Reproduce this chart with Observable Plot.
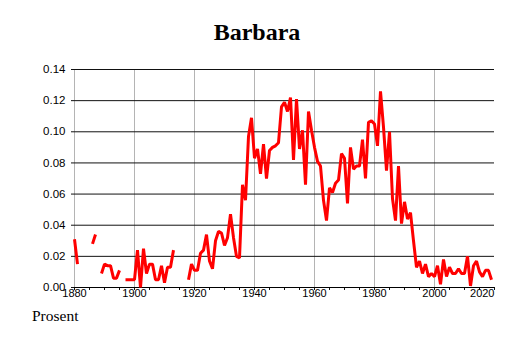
<!DOCTYPE html>
<html><head><meta charset="utf-8">
<script src="https://cdn.jsdelivr.net/npm/d3@7"></script>
<script src="https://cdn.jsdelivr.net/npm/@observablehq/plot@0.6"></script>
<style>
body{margin:0;background:#fff;}
#wrap{position:relative;width:514px;height:343px;overflow:hidden;}
#wrap svg{position:absolute;left:0;top:0;}
#title{position:absolute;left:0;width:514px;top:20px;line-height:24px;text-align:center;font-weight:bold;font-size:24px;font-family:"Liberation Serif","Times New Roman",serif;color:#000;}
#unit{position:absolute;left:32px;top:308px;line-height:16px;font-size:15.5px;font-family:"Liberation Serif","Times New Roman",serif;color:#000;}
</style></head>
<body><div id="wrap"><div id="title">Barbara</div><div id="unit">Prosent</div></div>
<script>
const title = "Barbara";
const unitLabel = "Prosent";
const firstYear = 1880;
// share (percent) per year, null = no data
const values = [
  0.031, 0.015, null, null, null, null, 0.028, 0.034, null, 0.009,   // 1880-1889
  0.015, 0.014, 0.014, 0.006, 0.006, 0.011, null, 0.005, 0.005, 0.005, // 1890-1899
  0.005, 0.024, 0.000, 0.025, 0.009, 0.015, 0.015, 0.005, 0.005, 0.014, // 1900-1909
  0.003, 0.013, 0.013, 0.024, null, null, null, null, 0.005, 0.015,    // 1910-1919
  0.011, 0.011, 0.022, 0.024, 0.034, 0.017, 0.012, 0.030, 0.036, 0.035, // 1920-1929
  0.027, 0.032, 0.047, 0.032, 0.020, 0.019, 0.066, 0.056, 0.097, 0.109, // 1930-1939
  0.083, 0.089, 0.073, 0.092, 0.070, 0.088, 0.090, 0.091, 0.093, 0.116, // 1940-1949
  0.119, 0.113, 0.122, 0.082, 0.121, 0.089, 0.101, 0.066, 0.113, 0.101, // 1950-1959
  0.090, 0.081, 0.078, 0.056, 0.043, 0.064, 0.061, 0.067, 0.069, 0.086, // 1960-1969
  0.083, 0.054, 0.090, 0.076, 0.078, 0.078, 0.095, 0.070, 0.106, 0.107, // 1970-1979
  0.105, 0.091, 0.126, 0.103, 0.075, 0.100, 0.057, 0.043, 0.078, 0.041, // 1980-1989
  0.055, 0.044, 0.048, 0.030, 0.013, 0.017, 0.009, 0.015, 0.007, 0.009, // 1990-1999
  0.007, 0.014, 0.002, 0.018, 0.007, 0.013, 0.009, 0.009, 0.012, 0.009, // 2000-2009
  0.009, 0.020, 0.001, 0.014, 0.017, 0.010, 0.007, 0.011, 0.011, 0.005  // 2010-2019
];
const years = values.map((_, i) => firstYear + i);
const xDomain = [1880, 2020];
const yDomain = [0, 0.14];
const yTicks = [0, 0.02, 0.04, 0.06, 0.08, 0.10, 0.12, 0.14];
const xLabelTicks = [1880, 1900, 1920, 1940, 1960, 1980, 2000];
const xLastLabel = [2020];
const xGridTicks = [1880, 1900, 1920, 1940, 1960, 1980, 2000];
const xMinorTicks = [1880,1885,1890,1895,1900,1905,1910,1915,1920,1925,1930,1935,1940,1945,1950,1955,1960,1965,1970,1975,1980,1985,1990,1995,2000,2005,2010,2015,2020];

const data = years.map((year, i) => ({year, value: values[i]}));

document.getElementById("title").textContent = title;
document.getElementById("unit").textContent = unitLabel;

const chart = Plot.plot({
  width: 514,
  height: 343,
  marginLeft: 74,
  marginRight: 20,
  marginTop: 69,
  marginBottom: 56,
  style: {fontFamily: '"Liberation Sans", Arial, sans-serif', background: "transparent", color: "#000"},
  x: {domain: xDomain, axis: null, label: null},
  y: {domain: yDomain, axis: null, label: null},
  marks: [
    Plot.gridX({ticks: xGridTicks, stroke: "#b4b4b4", strokeOpacity: 1}),
    Plot.gridY({ticks: yTicks, stroke: "#111", strokeOpacity: 1}),
    Plot.axisY({ticks: yTicks, tickFormat: d3.format(".2f"), tickSize: 3, tickPadding: 6, fontSize: 11.5, stroke: "#111", label: null}),
    Plot.axisX({ticks: xMinorTicks, tickSize: 3, tickFormat: () => "", stroke: "#111", label: null}),
    Plot.axisX({ticks: xLabelTicks, tickSize: 0, tickPadding: 2, fontSize: 11, tickFormat: d3.format("d"), label: null}),
    Plot.axisX({ticks: xLastLabel, tickSize: 0, tickPadding: 2, fontSize: 11, tickFormat: d3.format("d"), textAnchor: "end", label: null}),
    Plot.ruleY([0], {stroke: "#000"}),
    Plot.line(data, {x: "year", y: "value", stroke: "#ff0000", strokeWidth: 3, strokeLinejoin: "miter", strokeLinecap: "butt"})
  ]
});
document.getElementById("wrap").prepend(chart);
</script>
</body></html>
